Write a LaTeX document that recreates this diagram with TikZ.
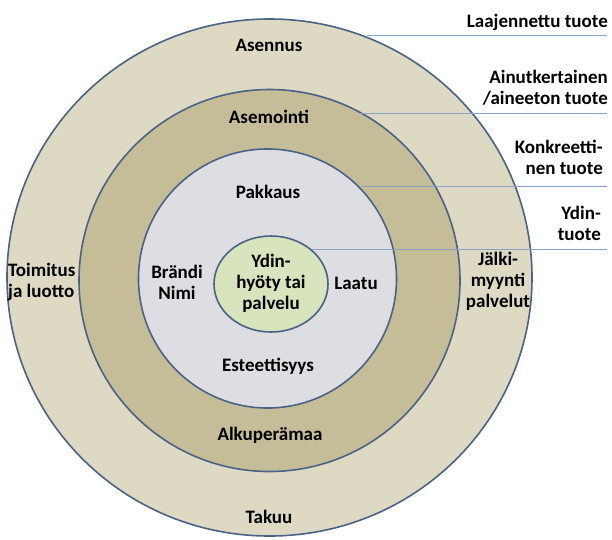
\documentclass[tikz,border=0pt]{standalone}
\usepackage{fontspec}
\setmainfont{Carlito}
\begin{document}
\begin{tikzpicture}[x=1pt,y=-1pt,
  ring/.style={draw=ringedge,line width=1.6pt},
  lbl/.style={font=\bfseries\fontsize{19}{21}\selectfont,text=black,inner sep=0pt,align=center},
  lblr/.style={lbl,align=right,anchor=east},
  lbll/.style={lbl,align=left,anchor=west},
  leader/.style={draw=leadcol,line width=1pt}]
\definecolor{ringedge}{RGB}{74,98,134}
\definecolor{leadcol}{RGB}{138,162,198}
\definecolor{outerfill}{RGB}{221,217,195}
\definecolor{midfill}{RGB}{196,189,151}
\definecolor{innerfill}{RGB}{221,221,226}
\definecolor{corefill}{RGB}{215,228,189}
\useasboundingbox (0,0) rectangle (612,539);
\fill[white] (0,0) rectangle (612,539);

% concentric product levels
\draw[ring,fill=outerfill] (269.5,277.5) ellipse [x radius=262.5,y radius=258.5];
\draw[ring,fill=midfill] (269.5,280.5) ellipse [x radius=190.5,y radius=191];
\draw[ring,fill=innerfill] (267.5,278.5) ellipse [x radius=129,y radius=129.5];
\draw[ring,fill=corefill] (271,284) ellipse [x radius=57,y radius=48];

% leader lines from each level to its caption
\coordinate (a1) at (367,35);   \coordinate (b1) at (607,35);
\coordinate (a2) at (360,113);  \coordinate (b2) at (607,113);
\coordinate (a3) at (362,186);  \coordinate (b3) at (607,186);
\coordinate (a4) at (312,249);  \coordinate (b4) at (607,249);
\draw[leader] (a1) -- (b1);
\draw[leader] (a2) -- (b2);
\draw[leader] (a3) -- (b3);
\draw[leader] (a4) -- (b4);

% level captions
\node[lblr] (cap1) at (608,22) {Laajennettu tuote};
\node[lblr] (cap2) at (608,88) {Ainutkertainen\\/aineeton tuote};
\node[lblr] (cap3) at (603,157) {Konkreetti-\\nen tuote};
\node[lblr] (cap4) at (601,223) {Ydin-\\tuote};

% ring contents
\node[lbl] (asennus) at (269,45) {Asennus};
\node[lbl] (asemointi) at (269,117) {Asemointi};
\node[lbl] (pakkaus) at (268,192) {Pakkaus};
\node[lbl] (brandi) at (177,282) {Brändi\\Nimi};
\node[lbl] (core) at (271,283) {Ydin-\\hyöty tai\\palvelu};
\node[lbl] (laatu) at (356,283) {Laatu};
\node[lbl] (esteet) at (268,366) {Esteettisyys};
\node[lbl] (alku) at (270,435) {Alkuperämaa};
\node[lbl] (takuu) at (269,517) {Takuu};
\node[lbll] (toimitus) at (8,282) {Toimitus\\ja luotto};
\node[lbl] (jalki) at (498,281) {Jälki-\\myynti\\palvelut};
\end{tikzpicture}
\end{document}
